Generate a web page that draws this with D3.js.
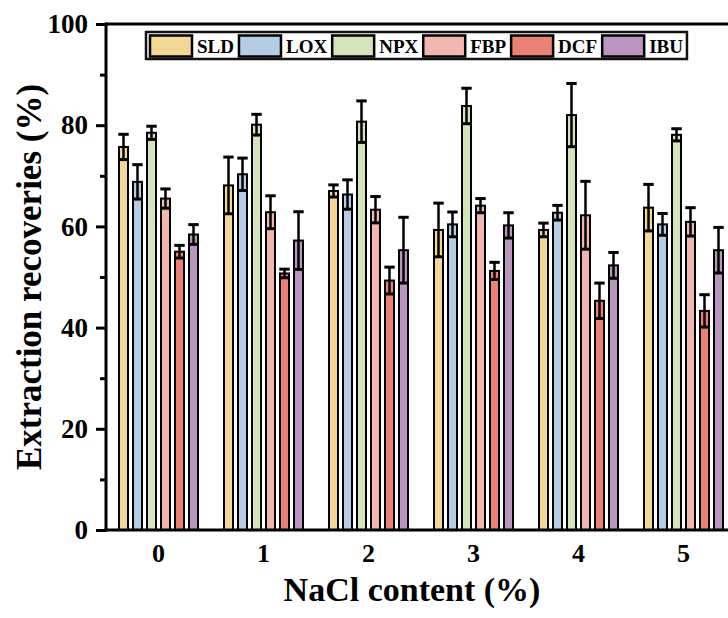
<!DOCTYPE html>
<html>
<head>
<meta charset="utf-8">
<script src="https://cdn.jsdelivr.net/npm/d3@7"></script>
<style>
  html, body { margin: 0; padding: 0; background: #fff; }
  svg { display: block; }
  text { font-family: "Liberation Serif", "Times New Roman", serif; font-weight: bold; fill: #000; }
</style>
</head>
<body>
<svg id="chart" width="728" height="618"></svg>
<script>
// ---- data ----
const categories = ["0", "1", "2", "3", "4", "5"];
const seriesNames = ["SLD", "LOX", "NPX", "FBP", "DCF", "IBU"];
const SLD = [75.7, 68.1, 67.0, 59.3, 59.3, 63.7];
const LOX = [68.8, 70.3, 66.3, 60.4, 62.7, 60.4];
const NPX = [78.5, 80.1, 80.7, 83.8, 82.0, 78.1];
const FBP = [65.5, 62.8, 63.3, 64.1, 62.2, 60.9];
const DCF = [55.0, 50.7, 49.3, 51.2, 45.3, 43.3];
const IBU = [58.4, 57.2, 55.3, 60.2, 52.3, 55.3];
const SLD_err = [2.5, 5.6, 1.2, 5.3, 1.35, 4.6];
const LOX_err = [3.4, 3.2, 2.9, 2.45, 1.45, 2.15];
const NPX_err = [1.3, 2.05, 4.1, 3.5, 6.25, 1.2];
const FBP_err = [1.9, 3.25, 2.6, 1.4, 6.7, 2.8];
const DCF_err = [1.25, 0.85, 2.65, 1.7, 3.5, 3.2];
const IBU_err = [1.95, 5.7, 6.5, 2.5, 2.55, 4.5];
const yTicks = [0, 20, 40, 60, 80, 100];
const yMinorTicks = [10, 30, 50, 70, 90];
const xTitle = "NaCl content (%)";
const yTitle = "Extraction recoveries (%)";

// ---- styles ----
const colors = ["#F3D796", "#B4CDE4", "#D3E3BA", "#F1B6B0", "#EB8075", "#B995C0"];

(function () {
const values = [SLD, LOX, NPX, FBP, DCF, IBU];
const errors = [SLD_err, LOX_err, NPX_err, FBP_err, DCF_err, IBU_err];

const svg = d3.select("#chart");
const pL = 106, pR = 736, pT = 24, pB = 530;

const x0 = d3.scaleBand().domain(categories).range([pL, pR]).paddingInner(0).paddingOuter(0);
const groupW = 84;
const x1 = d3.scaleBand().domain(seriesNames).range([0, groupW]).padding(0);
const y = d3.scaleLinear().domain([0, 100]).range([pB, pT]);

const rows = [];
categories.forEach((c, ci) => {
  seriesNames.forEach((s, si) => {
    rows.push({ cat: c, ser: s, si: si, v: values[si][ci], e: errors[si][ci] });
  });
});

const barInset = 2.5, barW = 9;
const gx = d => x0(d.cat) + x0.bandwidth() / 2 - groupW / 2 + x1(d.ser);

// bars
svg.append("g").selectAll("rect").data(rows).join("rect")
  .attr("x", d => gx(d) + barInset)
  .attr("width", barW)
  .attr("y", d => y(d.v))
  .attr("height", d => y(0) - y(d.v))
  .attr("fill", d => colors[d.si])
  .attr("stroke", "#000")
  .attr("stroke-width", 2);

// error bars
const eg = svg.append("g").attr("stroke", "#000").attr("stroke-width", 2.5);
rows.forEach(d => {
  const cx = gx(d) + barInset + barW / 2;
  const capHalf = 5.2;
  eg.append("line").attr("x1", cx).attr("x2", cx).attr("y1", y(d.v + d.e)).attr("y2", y(d.v - d.e));
  eg.append("line").attr("x1", cx - capHalf).attr("x2", cx + capHalf).attr("y1", y(d.v + d.e)).attr("y2", y(d.v + d.e)).attr("stroke-width", 3);
  eg.append("line").attr("x1", cx - capHalf).attr("x2", cx + capHalf).attr("y1", y(d.v - d.e)).attr("y2", y(d.v - d.e)).attr("stroke-width", 3);
});

// frame (top and right)
svg.append("line").attr("x1", pL).attr("x2", pR).attr("y1", pT).attr("y2", pT)
  .attr("stroke", "#000").attr("stroke-width", 3);
svg.append("line").attr("x1", pR).attr("x2", pR).attr("y1", pT).attr("y2", pB)
  .attr("stroke", "#000").attr("stroke-width", 3);

// y axis
const yAxis = svg.append("g").attr("transform", `translate(${pL},0)`)
  .call(d3.axisLeft(y).tickValues(yTicks).tickSize(10).tickPadding(8).tickFormat(d3.format("d")));
yAxis.select(".domain").remove();
yAxis.selectAll(".tick line").attr("stroke", "#000").attr("stroke-width", 3);
yAxis.selectAll(".tick text").style("font-size", "27px").style("font-family", "Liberation Serif").style("font-weight", "bold").attr("fill", "#000");
const yMinor = svg.append("g").attr("transform", `translate(${pL},0)`)
  .call(d3.axisLeft(y).tickValues(yMinorTicks).tickSize(6).tickFormat(""));
yMinor.select(".domain").remove();
yMinor.selectAll(".tick line").attr("stroke", "#000").attr("stroke-width", 3);
svg.append("line").attr("x1", pL).attr("x2", pL).attr("y1", pT - 1.5).attr("y2", pB + 1.5)
  .attr("stroke", "#000").attr("stroke-width", 3);

// x axis
const xAxis = svg.append("g").attr("transform", `translate(0,${pB})`)
  .call(d3.axisBottom(x0).tickSize(0).tickPadding(14));
xAxis.select(".domain").remove();
xAxis.selectAll(".tick text").style("font-size", "26px").style("font-family", "Liberation Serif").style("font-weight", "bold").attr("fill", "#000");
svg.append("line").attr("x1", pL - 1.5).attr("x2", pR).attr("y1", pB).attr("y2", pB)
  .attr("stroke", "#000").attr("stroke-width", 3);

// titles
svg.append("text").attr("x", 412).attr("y", 601).attr("text-anchor", "middle")
  .style("font-size", "34px").text(xTitle);
svg.append("text").attr("transform", `translate(41,${(pT + pB) / 2}) rotate(-90)`)
  .attr("text-anchor", "middle").style("font-size", "35px").text(yTitle);

// legend
const lg = svg.append("g");
const lgBox = lg.append("rect").attr("x", 146).attr("y", 32).attr("height", 27)
  .attr("fill", "#fff").attr("stroke", "#111").attr("stroke-width", 2.5);
let lx = 149;
seriesNames.forEach((s, i) => {
  lg.append("rect").attr("x", lx + 1).attr("y", 35.5).attr("width", 42).attr("height", 21)
    .attr("fill", colors[i]).attr("stroke", "#000").attr("stroke-width", 2.5);
  const t = lg.append("text").attr("x", lx + 48).attr("y", 52.5).style("font-size", "19px").text(s);
  const w = t.node().getComputedTextLength();
  lx = lx + 48 + w + (i < seriesNames.length - 1 ? 4 : 0);
});
lgBox.attr("width", lx + 4 - 146);
})();
</script>
</body>
</html>
